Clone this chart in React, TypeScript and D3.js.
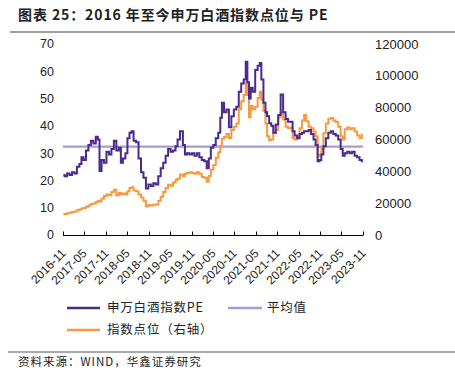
import React from "react";
import * as d3 from "d3";

const dates = [
  "2016-11-04","2016-11-25","2016-12-16","2017-01-06","2017-01-27","2017-02-17","2017-03-10","2017-03-31","2017-04-14","2017-05-05",
  "2017-05-26","2017-06-16","2017-07-07","2017-07-28","2017-08-18","2017-09-01","2017-09-15","2017-10-06","2017-10-27","2017-11-17",
  "2017-12-08","2017-12-29","2018-01-19","2018-02-09","2018-03-02","2018-03-16","2018-04-06","2018-04-27","2018-05-11","2018-06-01",
  "2018-06-15","2018-07-06","2018-07-27","2018-08-17","2018-09-07","2018-09-28","2018-10-19","2018-11-09","2018-11-30","2018-12-21",
  "2019-01-11","2019-02-01","2019-02-22","2019-03-15","2019-04-05","2019-04-26","2019-05-17","2019-06-07","2019-06-28","2019-07-12",
  "2019-08-09","2019-08-30","2019-09-13","2019-10-04","2019-10-25","2019-11-15","2019-12-06","2019-12-27","2020-01-17","2020-02-07",
  "2020-02-28","2020-03-20","2020-04-03","2020-04-24","2020-05-15","2020-06-05","2020-06-26","2020-07-10","2020-07-24","2020-08-14",
  "2020-09-04","2020-09-25","2020-10-16","2020-11-06","2020-11-27","2020-12-18","2021-01-08","2021-01-29","2021-02-12","2021-02-26",
  "2021-03-12","2021-03-26","2021-04-16","2021-05-07","2021-05-28","2021-06-11","2021-06-25","2021-07-16","2021-07-30","2021-08-13",
  "2021-09-03","2021-09-17","2021-10-08","2021-10-29","2021-11-19","2021-12-10","2021-12-31","2022-01-21","2022-02-11","2022-03-04",
  "2022-03-18","2022-04-08","2022-04-29","2022-05-20","2022-06-10","2022-06-24","2022-07-15","2022-08-05","2022-08-26","2022-09-16",
  "2022-09-30","2022-10-21","2022-11-04","2022-11-18","2022-12-09","2022-12-30","2023-01-20","2023-02-10","2023-03-03","2023-03-24",
  "2023-04-14","2023-05-05","2023-05-19","2023-06-09","2023-06-30","2023-07-21","2023-08-11","2023-09-01","2023-09-22","2023-10-13",
  "2023-10-31"
];

const peValues = [
  22, 21.5, 22.5, 22, 23, 22.5, 25, 26, 28.5, 27.5,
  31, 33, 34.5, 33.5, 36, 35, 23.5, 27.5, 26.5, 30.5,
  29.5, 31.5, 34.5, 31, 32, 26.5, 28, 30, 35.5, 37.5,
  38, 34.5, 34, 28, 23, 21, 17, 18.5, 18, 19,
  18.5, 21.5, 24.5, 26.5, 29, 31.5, 30.5, 31, 32.5, 35,
  38, 33, 29.5, 30, 29.5, 30, 29, 30, 28.5, 27.5,
  27, 24.5, 28, 32, 33, 35.5, 37.5, 43, 48.5, 45,
  46, 39.5, 43.5, 46, 47, 52.5, 55.5, 57, 63.5, 56,
  50, 54, 52.5, 60.5, 62, 63, 57, 48.5, 45, 43.5,
  41, 40, 37.5, 40.5, 44, 51.5, 45, 42.5, 41.5, 41.5,
  38, 36.5, 35.5, 37, 37.5, 38, 38, 38.5, 37, 35,
  33, 27, 27.5, 29.5, 32.5, 35.5, 37.5, 38, 37, 36.5,
  35, 31.5, 29, 30, 30.5, 30, 30.5, 29, 28.5, 27.5,
  27
];

const indexValues = [
  13000, 13200, 13600, 14000, 14500, 14800, 15500, 16000, 16600, 17000,
  17800, 18600, 19500, 19800, 20800, 21500, 21000, 23000, 24500, 25500,
  25000, 27000, 28500, 25000, 26500, 25500, 26000, 25500, 27500, 29500,
  30000, 28000, 27500, 25500, 23500, 21500, 18000, 18800, 18600, 19200,
  19000, 21500, 24000, 27000, 29500, 31500, 31000, 33000, 34500, 35500,
  38000, 37000, 38500, 39000, 39500, 39000, 38500, 39500, 38500, 36500,
  36000, 33500, 37000, 41000, 44000, 48500, 52000, 56000, 60500, 61500,
  63500, 61000, 66000, 68000, 70000, 79000, 84000, 88000, 96000, 88000,
  74000, 81000, 79000, 80500, 86000, 90000, 85000, 78000, 70000, 62000,
  59500, 60000, 64000, 66000, 74000, 77000, 72500, 68000, 67000, 67500,
  61000, 60000, 61500, 67000, 72000, 75500, 71500, 68000, 67000, 65000,
  62000, 49500, 50500, 54000, 64000, 70000, 73000, 73500, 72000, 71000,
  68000, 62000, 60000, 66500, 67500, 66500, 67000, 65000, 62500, 61000,
  63000
];

const averagePE = 32.4;

const xTickLabels = [
  "2016-11","2017-05","2017-11","2018-05","2018-11","2019-05","2019-11","2020-05",
  "2020-11","2021-05","2021-11","2022-05","2022-11","2023-05","2023-11"
];
const leftTicks = [0, 10, 20, 30, 40, 50, 60, 70];
const rightTicks = [0, 20000, 40000, 60000, 80000, 100000, 120000];

const titleText = "图表 25：2016 年至今申万白酒指数点位与 PE";
const legendPE = "申万白酒指数PE";
const legendAvg = "平均值";
const legendIdx = "指数点位（右轴）";
const sourceText = "资料来源：WIND，华鑫证券研究";

const PURPLE = "#4a2a8c";
const LIGHT_PURPLE = "#a99ad6";
const ORANGE = "#f7993f";

export default function App() {
  const W = 455, H = 377;
  const parse = d3.timeParse("%Y-%m-%d");
  const parseM = d3.timeParse("%Y-%m");
  const rows = dates.map((d, i) => ({ date: parse(d) as Date, pe: peValues[i], idx: indexValues[i] }));

  const x = d3.scaleTime()
    .domain([parseM(xTickLabels[0]) as Date, parseM(xTickLabels[xTickLabels.length - 1]) as Date])
    .range([63, 363]);
  const yL = d3.scaleLinear().domain([0, 70]).range([235, 44]);
  const yR = d3.scaleLinear().domain([0, 120000]).range([235, 44]);

  const pePath = d3.line<any>().curve(d3.curveStep).x(d => x(d.date)).y(d => yL(d.pe))(rows) as string;
  const idxPath = d3.line<any>().curve(d3.curveStep).x(d => x(d.date)).y(d => yR(d.idx))(rows) as string;

  const axisFont = "'Liberation Sans', Arial, sans-serif";
  const cjkFont = "'Noto Sans CJK SC', sans-serif";

  return (
    <svg width={W} height={H} style={{ position: "absolute", left: 0, top: 0, background: "#fff" }}>
      <text x={18} y={20} fontFamily={cjkFont} fontWeight="bold" fontSize={14} letterSpacing={0.9} fill="#222">{titleText}</text>
      <line x1={10} x2={455} y1={32} y2={32} stroke="#7f7f7f" strokeWidth={1.6} />

      {leftTicks.map(t => (
        <text key={"l" + t} x={54} y={yL(t)} dy="0.35em" textAnchor="end" fontFamily={axisFont} fontSize={12.5} fill="#222">{t}</text>
      ))}
      {rightTicks.map(t => (
        <text key={"r" + t} x={375} y={yR(t)} dy="0.35em" textAnchor="start" fontFamily={axisFont} fontSize={13} fill="#222">{t}</text>
      ))}

      <line x1={x.range()[0]} x2={x.range()[1]} y1={yL(averagePE)} y2={yL(averagePE)} stroke={LIGHT_PURPLE} strokeWidth={2.2} />

      <path d={idxPath} fill="none" stroke={ORANGE} strokeWidth={2} strokeLinejoin="miter" />
      <path d={pePath} fill="none" stroke={PURPLE} strokeWidth={2} strokeLinejoin="miter" />

      <line x1={63} x2={363} y1={235.5} y2={235.5} stroke="#000" strokeWidth={1} />
      {xTickLabels.map(l => {
        const tx = Math.round(x(parseM(l) as Date)) + 0.5;
        return (
          <g key={l}>
            <line x1={tx} x2={tx} y1={235.5} y2={231.5} stroke="#000" strokeWidth={1} />
            <text transform={`translate(${tx + 3},${254}) rotate(-45)`} textAnchor="end"
              fontFamily={axisFont} fontSize={12} fill="#222">{l}</text>
          </g>
        );
      })}

      <line x1={67} x2={100} y1={308} y2={308} stroke={PURPLE} strokeWidth={2.5} />
      <text x={107} y={308} dy="0.35em" fontFamily={cjkFont} fontSize={12.5} letterSpacing={0.8} fill="#222">{legendPE}</text>
      <line x1={228} x2={262} y1={308} y2={308} stroke={LIGHT_PURPLE} strokeWidth={2.5} />
      <text x={267} y={308} dy="0.35em" fontFamily={cjkFont} fontSize={12.5} letterSpacing={0.8} fill="#222">{legendAvg}</text>
      <line x1={67} x2={100} y1={330} y2={330} stroke={ORANGE} strokeWidth={2.5} />
      <text x={107} y={330} dy="0.35em" fontFamily={cjkFont} fontSize={12.5} letterSpacing={0.8} fill="#222">{legendIdx}</text>

      <line x1={8} x2={455} y1={352} y2={352} stroke="#555" strokeWidth={1.2} />
      <text x={18} y={362} dy="0.35em" fontFamily={cjkFont} fontSize={11.5} letterSpacing={1} fill="#222">{sourceText}</text>
    </svg>
  );
}
